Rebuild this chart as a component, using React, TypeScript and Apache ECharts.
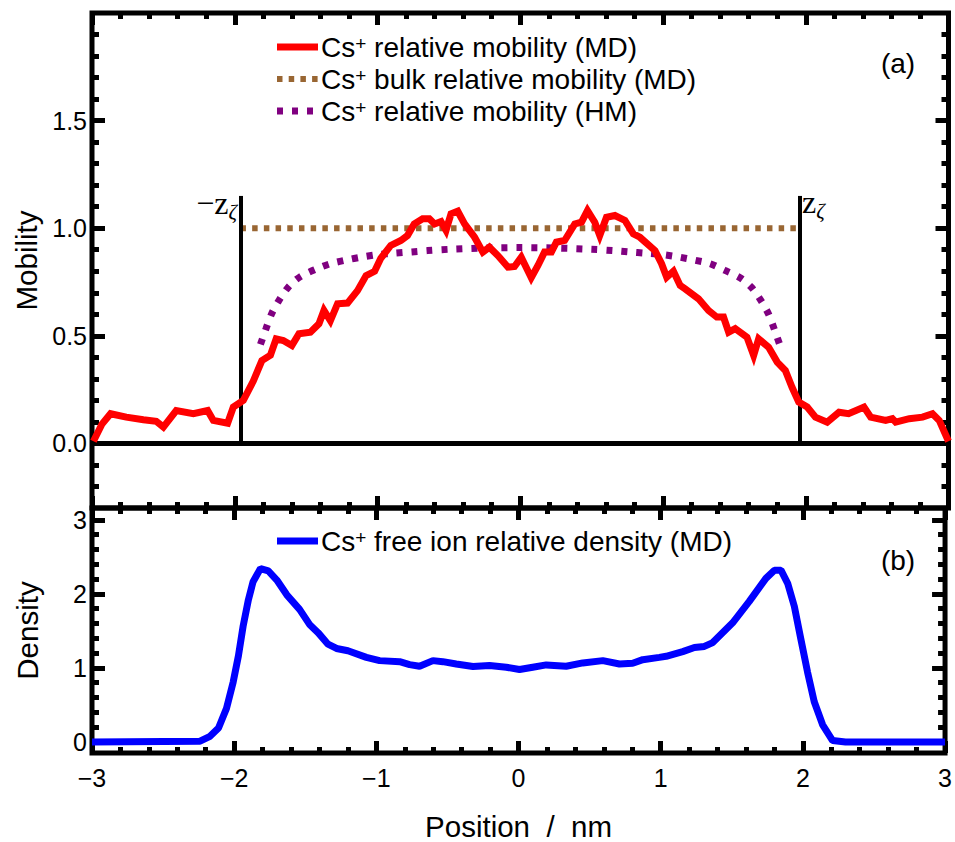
import React, { useEffect, useRef } from "react";
import * as echarts from "echarts";

// ---- data ----
const redX = [-2.99, -2.93, -2.87, -2.76, -2.64, -2.55, -2.5, -2.41, -2.29, -2.19, -2.15, -2.05, -2.01, -1.94, -1.87, -1.81, -1.75, -1.71, -1.66, -1.6, -1.55, -1.47, -1.41, -1.375, -1.33, -1.28, -1.21, -1.14, -1.08, -1.02, -0.977, -0.907, -0.836, -0.79, -0.743, -0.684, -0.637, -0.6, -0.555, -0.52, -0.485, -0.438, -0.39, -0.32, -0.262, -0.216, -0.157, -0.086, -0.04, 0.007, 0.077, 0.124, 0.17, 0.218, 0.253, 0.311, 0.382, 0.429, 0.471, 0.522, 0.557, 0.604, 0.663, 0.733, 0.792, 0.838, 0.944, 0.99, 1.026, 1.073, 1.12, 1.155, 1.249, 1.319, 1.377, 1.424, 1.46, 1.506, 1.588, 1.635, 1.67, 1.74, 1.8, 1.857, 1.904, 1.951, 2.01, 2.068, 2.15, 2.233, 2.3, 2.408, 2.455, 2.56, 2.607, 2.63, 2.725, 2.818, 2.888, 2.935, 3.0];
const redY = [0.01, 0.09, 0.138, 0.122, 0.11, 0.103, 0.076, 0.153, 0.138, 0.153, 0.107, 0.094, 0.169, 0.2, 0.29, 0.385, 0.41, 0.486, 0.478, 0.455, 0.51, 0.517, 0.556, 0.618, 0.57, 0.649, 0.652, 0.71, 0.78, 0.8, 0.86, 0.92, 0.943, 0.966, 1.02, 1.044, 1.044, 1.02, 1.031, 0.99, 1.067, 1.079, 1.02, 0.958, 0.889, 0.912, 0.873, 0.819, 0.822, 0.865, 0.77, 0.827, 0.889, 0.889, 0.935, 0.943, 1.02, 1.028, 1.082, 1.028, 0.966, 1.051, 1.059, 1.036, 0.974, 0.958, 0.896, 0.835, 0.772, 0.8, 0.734, 0.718, 0.672, 0.618, 0.587, 0.587, 0.517, 0.533, 0.494, 0.409, 0.486, 0.447, 0.378, 0.339, 0.261, 0.192, 0.169, 0.122, 0.099, 0.145, 0.138, 0.169, 0.122, 0.107, 0.115, 0.099, 0.115, 0.122, 0.138, 0.107, 0.01];

const bulkX = [-1.96, 1.96];
const bulkY = [1.0, 1.0];

const hmX = [-1.82, -1.78, -1.74, -1.69, -1.62, -1.54, -1.43, -1.33, -1.22, -1.11, -1.0, -0.88, -0.76, -0.65, -0.5, -0.25, 0, 0.25, 0.5, 0.65, 0.76, 0.88, 1.0, 1.11, 1.22, 1.33, 1.43, 1.54, 1.62, 1.69, 1.74, 1.78, 1.82];
const hmY = [0.46, 0.535, 0.605, 0.665, 0.73, 0.775, 0.81, 0.835, 0.852, 0.866, 0.877, 0.884, 0.89, 0.896, 0.902, 0.908, 0.91, 0.908, 0.902, 0.896, 0.89, 0.884, 0.877, 0.866, 0.852, 0.835, 0.805, 0.77, 0.725, 0.66, 0.6, 0.53, 0.455];

const blueX = [-3.0, -2.24, -2.17, -2.11, -2.054, -2.007, -1.97, -1.937, -1.9, -1.867, -1.815, -1.76, -1.7, -1.63, -1.54, -1.47, -1.41, -1.34, -1.28, -1.2, -1.07, -0.977, -0.836, -0.766, -0.696, -0.602, -0.532, -0.438, -0.32, -0.204, -0.086, 0.007, 0.1, 0.195, 0.335, 0.452, 0.593, 0.71, 0.803, 0.874, 0.99, 1.038, 1.155, 1.237, 1.307, 1.366, 1.506, 1.623, 1.74, 1.8, 1.846, 1.893, 1.94, 1.986, 2.033, 2.08, 2.139, 2.209, 2.3, 3.0];
const blueY = [0, 0.01, 0.076, 0.187, 0.453, 0.809, 1.164, 1.564, 1.92, 2.164, 2.342, 2.31, 2.187, 1.987, 1.79, 1.587, 1.476, 1.32, 1.262, 1.231, 1.142, 1.098, 1.084, 1.044, 1.022, 1.098, 1.084, 1.053, 1.018, 1.031, 1.009, 0.978, 1.009, 1.04, 1.022, 1.067, 1.098, 1.053, 1.062, 1.111, 1.142, 1.156, 1.22, 1.276, 1.29, 1.342, 1.609, 1.898, 2.209, 2.32, 2.32, 2.142, 1.831, 1.387, 0.942, 0.542, 0.231, 0.018, 0, 0];

const zetaX = 1.96;
const zetaTop = 1.15;

const positionTicks = { min: -3, max: 3, interval: 1 };
const mobilityRange = { min: -0.3, max: 2.0 };
const mobilityTicks = [0, 0.5, 1.0, 1.5];
const mobilityMinor = [-0.2, -0.1, 0.1, 0.2, 0.3, 0.4, 0.6, 0.7, 0.8, 0.9, 1.1, 1.2, 1.3, 1.4, 1.6, 1.7, 1.8, 1.9];
const densityRange = { min: -0.15, max: 3.16 };
const densityTicks = [0, 1, 2, 3];
const densityMinor = [0.2, 0.4, 0.6, 0.8, 1.2, 1.4, 1.6, 1.8, 2.2, 2.4, 2.6, 2.8];

const legendTop = [
  "Cs|+| relative mobility (MD)",
  "Cs|+| bulk relative mobility (MD)",
  "Cs|+| relative mobility (HM)",
];
const legendBottom = "Cs|+| free ion relative density (MD)";

const SANS = "'Liberation Sans', Arial, sans-serif";
const SERIF = "'Liberation Serif', 'Times New Roman', serif";

const pairs = (xs: number[], ys: number[]) => xs.map((x, i) => [x, ys[i]]);
const minusFmt = (v: number) => (v < 0 ? "\u2212" + Math.abs(v) : String(v));

function xAx(grid: number, pos: "top" | "bottom", labels: boolean, name?: string) {
  return {
    type: "value",
    gridIndex: grid,
    position: pos,
    min: positionTicks.min,
    max: positionTicks.max,
    interval: positionTicks.interval,
    axisLine: { show: false, onZero: false },
    splitLine: { show: false },
    axisTick: { show: true, inside: true, length: 12, lineStyle: { color: "#000", width: 5 } },
    minorTick: { show: true, splitNumber: 5, length: 6, lineStyle: { color: "#000", width: 5 } },
    axisLabel: labels
      ? { show: true, formatter: minusFmt, color: "#000", fontSize: 25, fontFamily: SANS, margin: 12 }
      : { show: false },
    name: name,
    nameLocation: "middle",
    nameGap: 58,
    nameTextStyle: { color: "#000", fontSize: 29.5, fontFamily: SANS },
  };
}

function yAx(
  grid: number,
  range: { min: number; max: number },
  pos: "left" | "right",
  ticks: number[],
  len: number,
  labels: null | ((v: number) => string),
  name?: string
) {
  return {
    type: "value",
    gridIndex: grid,
    position: pos,
    min: range.min,
    max: range.max,
    axisLine: { show: false, onZero: false },
    splitLine: { show: false },
    axisTick: { show: true, inside: true, length: len, customValues: ticks, lineStyle: { color: "#000", width: 5 } },
    axisLabel: labels
      ? { show: true, customValues: ticks, formatter: labels, color: "#000", fontSize: 25, fontFamily: SANS, margin: 5 }
      : { show: false },
    name: name,
    nameLocation: "middle",
    nameGap: 50,
    nameTextStyle: { color: "#000", fontSize: 29.5, fontFamily: SANS },
  };
}

const richLegend = {
  t: { fontSize: 28, fontFamily: SANS, lineHeight: 32, fill: "#000" },
  sup: { fontSize: 19, fontFamily: SANS, lineHeight: 19, padding: [0, 0, 8, 0], fill: "#000" },
};

const legendRich = (s: string) => {
  const [a, b, c] = s.split("|");
  return `{t|${a}}{sup|${b}}{t|${c}}`;
};

const richZeta = {
  m: { fontSize: 32, fontFamily: SERIF, lineHeight: 32, fill: "#000" },
  s: { fontSize: 21, fontFamily: SERIF, fontStyle: "italic", lineHeight: 21, padding: [18, 0, 0, 0], fill: "#000" },
};

export default function App() {
  const ref = useRef<HTMLDivElement>(null);
  useEffect(() => {
    if (!ref.current) return;
    const chart = echarts.init(ref.current, undefined, { renderer: "svg" });
    const legendLines = [
      { y: 47, color: "#ff0000", width: 7, dash: null as null | number[] },
      { y: 79, color: "#996633", width: 6, dash: [5.5, 6.2] },
      { y: 111, color: "#800080", width: 7, dash: [6, 9] },
    ];
    const graphic: any[] = [];
    legendLines.forEach((l, i) => {
      graphic.push({
        type: "line",
        shape: { x1: 277, y1: l.y, x2: 318, y2: l.y },
        style: { stroke: l.color, lineWidth: l.width, lineDash: l.dash || undefined, lineCap: "butt" },
      });
      graphic.push({
        type: "text",
        x: 321,
        y: l.y,
        style: { text: legendRich(legendTop[i]), rich: richLegend, verticalAlign: "middle", align: "left", fill: "#000" },
      });
    });
    graphic.push({
      type: "line",
      shape: { x1: 277, y1: 541, x2: 318, y2: 541 },
      style: { stroke: "#0000ff", lineWidth: 7 },
    });
    graphic.push({
      type: "text",
      x: 321,
      y: 541,
      style: { text: legendRich(legendBottom), rich: richLegend, verticalAlign: "middle", align: "left", fill: "#000" },
    });
    graphic.push({
      type: "text",
      x: 898,
      y: 63,
      style: { text: "(a)", fontSize: 28, fontFamily: SANS, fill: "#000", align: "center", verticalAlign: "middle" },
    });
    graphic.push({
      type: "text",
      x: 898,
      y: 560,
      style: { text: "(b)", fontSize: 28, fontFamily: SANS, fill: "#000", align: "center", verticalAlign: "middle" },
    });
    graphic.push({
      type: "text",
      x: 237,
      y: 203,
      style: { text: "{m|\u2212z}{s|\u03b6}", rich: richZeta, align: "right", verticalAlign: "middle", fill: "#000" },
    });
    graphic.push({
      type: "text",
      x: 802,
      y: 202,
      style: { text: "{m|z}{s|\u03b6}", rich: richZeta, align: "left", verticalAlign: "middle", fill: "#000" },
    });

    const option: any = {
      animation: false,
      backgroundColor: "#fff",
      grid: [
        { left: 92, right: 6.5, top: 13, height: 495, show: true, borderColor: "#000", borderWidth: 5, backgroundColor: "transparent" },
        { left: 92, right: 6.5, top: 508, height: 247, show: true, borderColor: "#000", borderWidth: 5, backgroundColor: "transparent" },
      ],
      xAxis: [
        xAx(0, "bottom", false),
        xAx(0, "top", false),
        xAx(1, "bottom", true, "Position  /  nm"),
        xAx(1, "top", false),
      ],
      yAxis: [
        yAx(0, mobilityRange, "left", mobilityTicks, 13, (v) => v.toFixed(1), "Mobility"),
        yAx(0, mobilityRange, "left", mobilityMinor, 7, null),
        yAx(0, mobilityRange, "right", mobilityTicks, 13, null),
        yAx(0, mobilityRange, "right", mobilityMinor, 7, null),
        yAx(1, densityRange, "left", densityTicks, 13, (v) => String(v), "Density"),
        yAx(1, densityRange, "left", densityMinor, 7, null),
        yAx(1, densityRange, "right", densityTicks, 13, null),
        yAx(1, densityRange, "right", densityMinor, 7, null),
      ],
      series: [
        {
          name: "bulk",
          type: "line",
          xAxisIndex: 0,
          yAxisIndex: 0,
          data: pairs(bulkX, bulkY),
          symbol: "none",
          lineStyle: { color: "#996633", width: 6, type: [5.5, 6.2], cap: "butt" },
          z: 2,
          markLine: {
            silent: true,
            symbol: ["none", "none"],
            label: { show: false },
            animation: false,
            data: [
              { yAxis: 0, lineStyle: { color: "#000", width: 5, type: "solid" } },
              [
                { coord: [-zetaX, 0], lineStyle: { color: "#000", width: 4, type: "solid" } },
                { coord: [-zetaX, zetaTop] },
              ],
              [
                { coord: [zetaX, 0], lineStyle: { color: "#000", width: 4, type: "solid" } },
                { coord: [zetaX, zetaTop] },
              ],
            ],
          },
        },
        {
          name: "hm",
          type: "line",
          xAxisIndex: 0,
          yAxisIndex: 0,
          data: pairs(hmX, hmY),
          symbol: "none",
          smooth: 0.3,
          lineStyle: { color: "#800080", width: 7, type: [6, 9], cap: "butt" },
          z: 3,
        },
        {
          name: "md",
          type: "line",
          xAxisIndex: 0,
          yAxisIndex: 0,
          data: pairs(redX, redY),
          symbol: "none",
          lineStyle: { color: "#ff0000", width: 7, join: "miter" },
          z: 5,
        },
        {
          name: "density",
          type: "line",
          xAxisIndex: 2,
          yAxisIndex: 4,
          data: pairs(blueX, blueY),
          symbol: "none",
          lineStyle: { color: "#0000ff", width: 7 },
          z: 5,
        },
      ],
      graphic,
    };
    chart.setOption(option);
    return () => chart.dispose();
  }, []);
  return <div ref={ref} style={{ position: "fixed", left: 0, top: 0, width: 955, height: 842 }} />;
}
